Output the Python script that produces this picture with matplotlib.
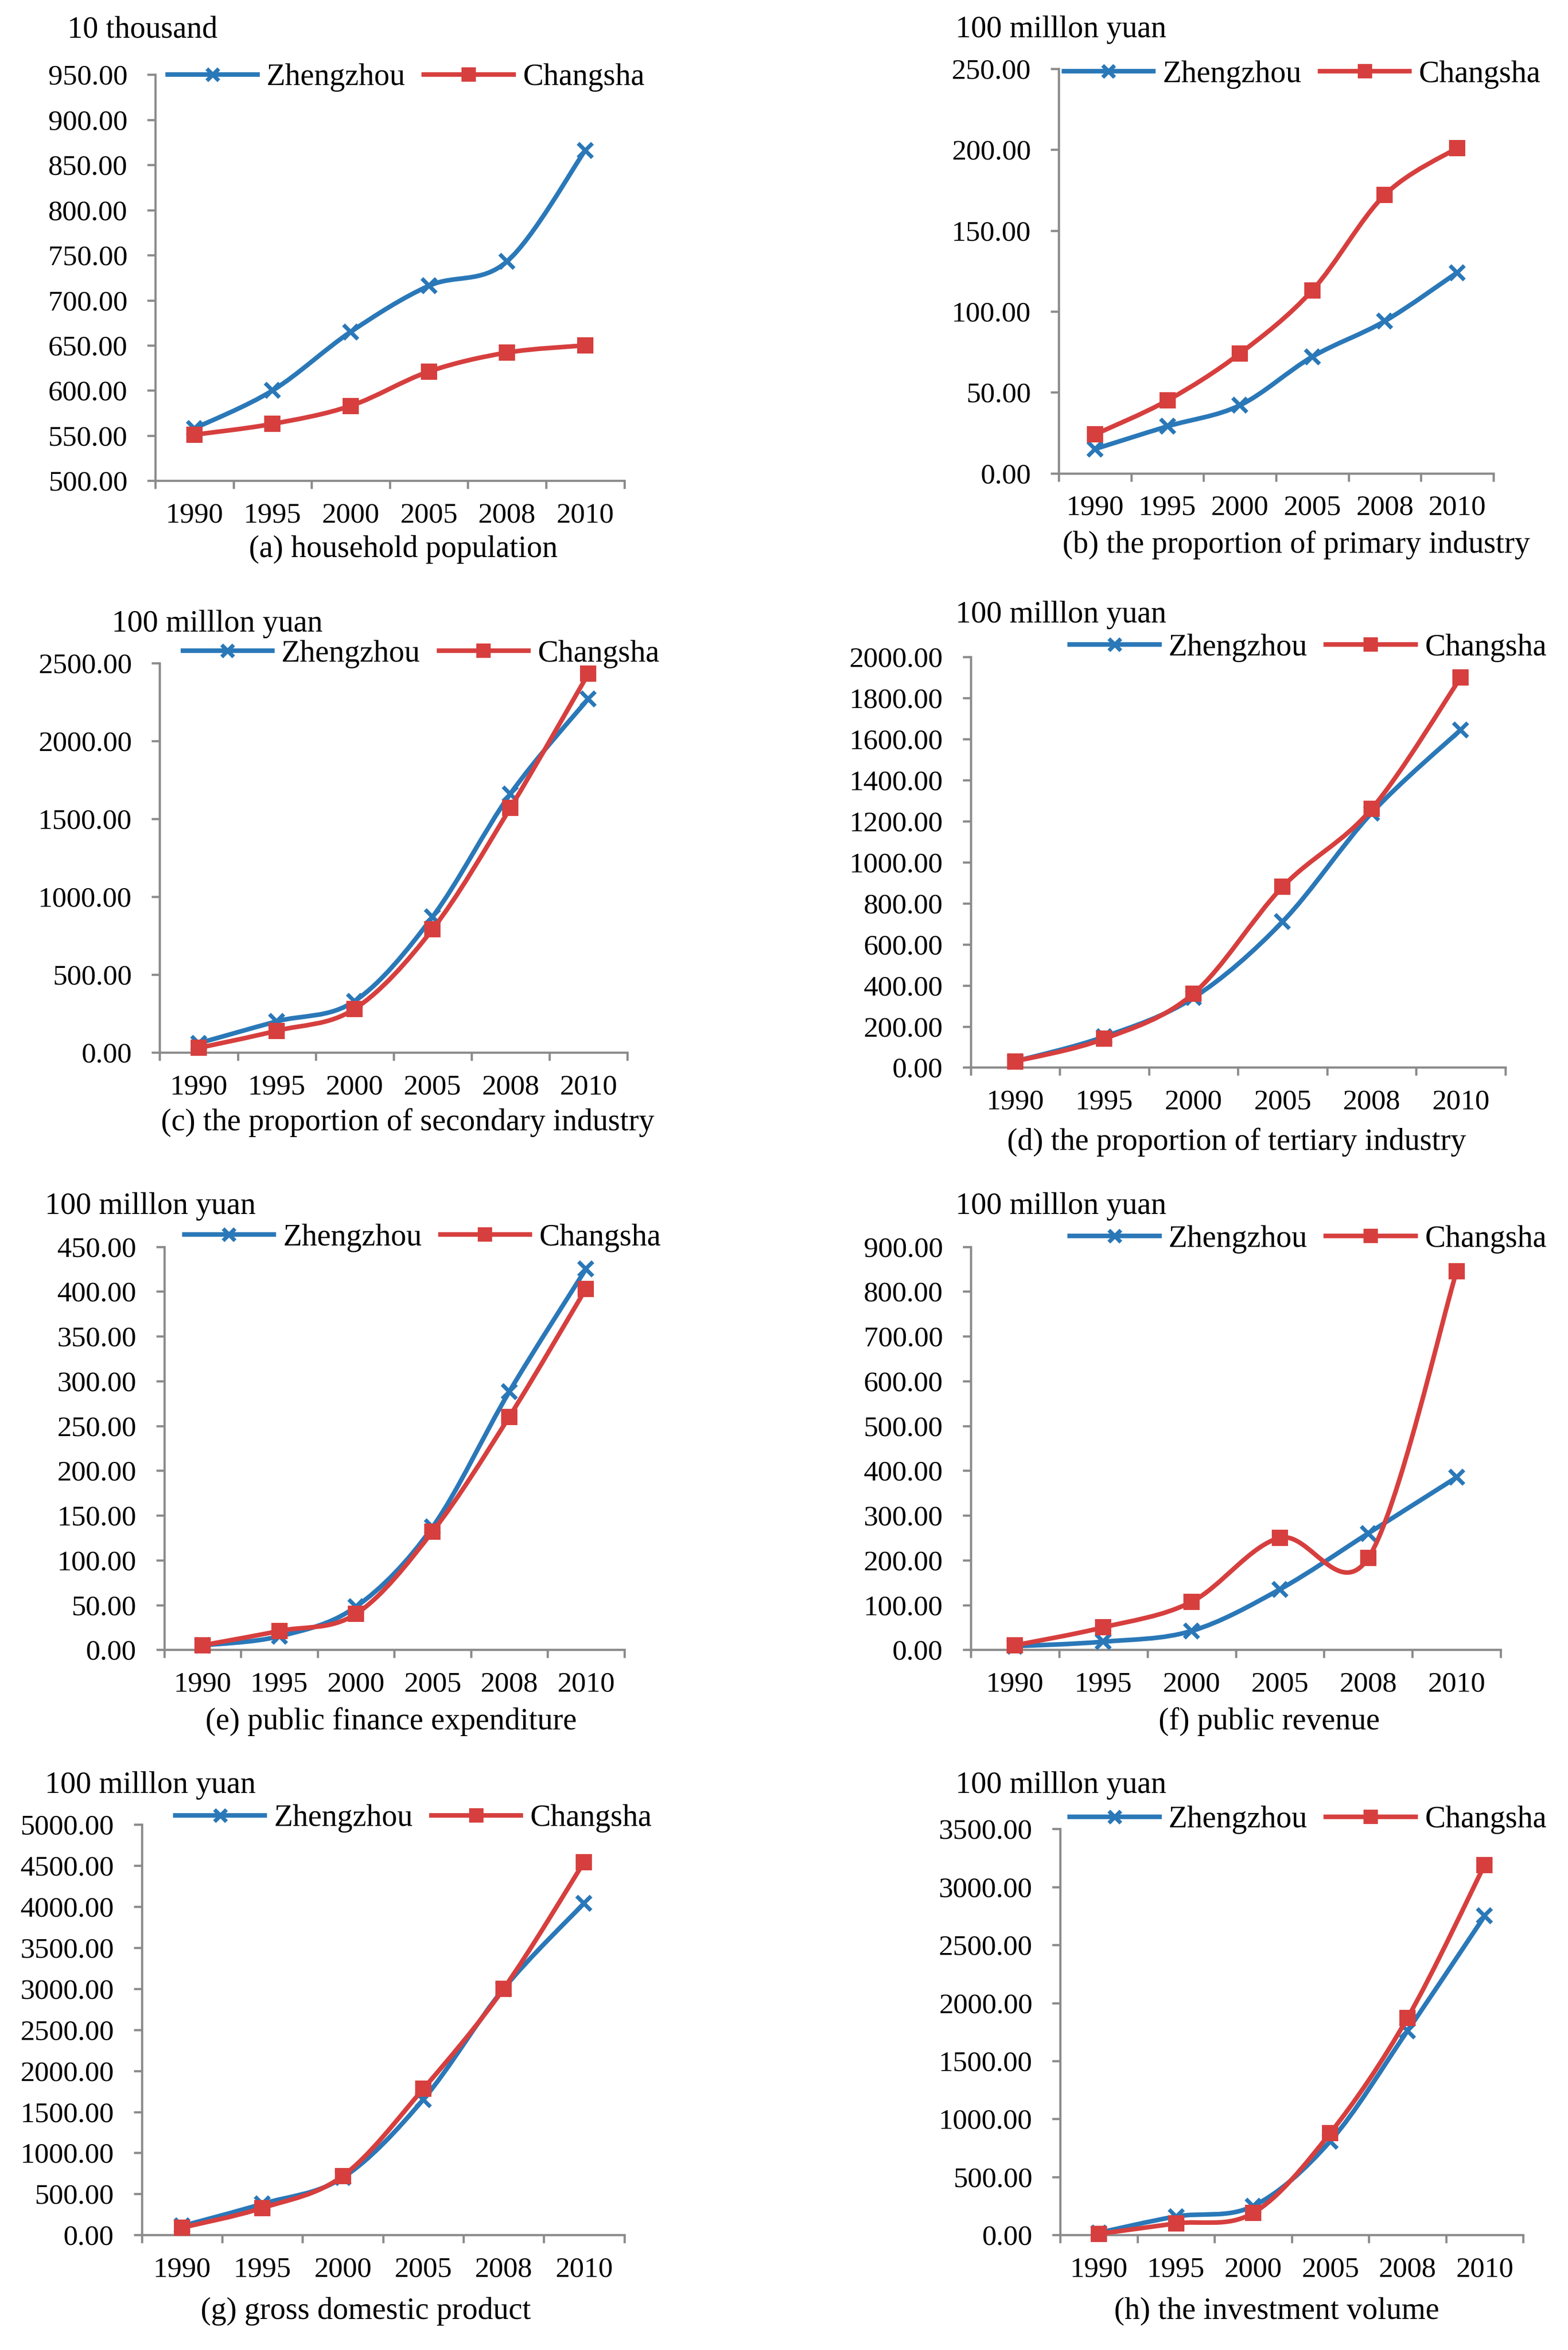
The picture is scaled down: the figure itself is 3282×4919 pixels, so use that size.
import numpy as np
import matplotlib
matplotlib.use("Agg")
import matplotlib.pyplot as plt
from matplotlib.path import Path
from matplotlib.patches import PathPatch
from matplotlib.lines import Line2D

plt.rcParams['font.family'] = ['Liberation Serif', 'DejaVu Serif']

years = ['1990', '1995', '2000', '2005', '2008', '2010']

pop_zz = [558, 600, 665, 716, 743, 866]
pop_cs = [551, 563, 583, 621, 642, 650]

prim_zz = [15, 29, 42, 72, 94, 124]
prim_cs = [24, 45, 74, 113, 172, 201]

sec_zz = [60, 200, 330, 870, 1660, 2270]
sec_cs = [30, 140, 280, 790, 1570, 2430]

ter_zz = [30, 150, 340, 710, 1240, 1645]
ter_cs = [30, 140, 360, 880, 1260, 1900]

exp_zz = [5, 15, 48, 137, 288, 425]
exp_cs = [5, 21, 40, 132, 260, 403]

rev_zz = [8, 18, 42, 135, 260, 385]
rev_cs = [10, 50, 107, 250, 205, 845]

gdp_zz = [110, 380, 700, 1650, 3000, 4040]
gdp_cs = [90, 330, 720, 1780, 3000, 4540]

inv_zz = [20, 160, 250, 810, 1760, 2750]
inv_cs = [10, 100, 190, 880, 1870, 3190]

BLUE = '#2a78b8'
RED = '#d63f3e'
GRAY = '#8a8a8a'
FS = 14.5      # tick labels
FS_TXT = 15.5  # unit labels, captions
FS_LEG = 15.5

W, H = 1050.0, 1574.0  # layout measured on a reduced copy


def fx(x):
    return x / W


def fy(y):
    return 1 - y / H


def smooth_path(x, y):
    # Excel-like smoothed line: cubic Bezier with Catmull-Rom control points
    pts = np.column_stack([x, y]).astype(float)
    n = len(pts)
    verts = [pts[0]]
    codes = [Path.MOVETO]
    for i in range(n - 1):
        p0 = pts[i - 1] if i > 0 else pts[i]
        p1 = pts[i]
        p2 = pts[i + 1]
        p3 = pts[i + 2] if i + 2 < n else pts[i + 1]
        c1 = p1 + (p2 - p0) / 6.0
        c2 = p2 - (p3 - p1) / 6.0
        verts += [c1, c2, p2]
        codes += [Path.CURVE4] * 3
    return Path(verts, codes)


fig = plt.figure(figsize=(3282 / 300, 4919 / 300), dpi=300)

panels = [
    # box (l, t, r, b) in layout px, ticks, unit label, unit pos, caption, caption pos, legend center
    dict(box=(104, 50, 418, 322), zz=pop_zz, cs=pop_cs, ticks=np.arange(500, 951, 50),
         unit='10 thousand', upos=(45, 20), cap='(a) household population', cpos=(270, 368), leg=(272, 52)),
    dict(box=(709, 46, 1000, 317), zz=prim_zz, cs=prim_cs, ticks=np.arange(0, 251, 50),
         unit='100 milllon yuan', upos=(640, 20), cap='(b) the proportion of primary industry', cpos=(868, 365), leg=(872, 50)),
    dict(box=(107, 444, 420, 705), zz=sec_zz, cs=sec_cs, ticks=np.arange(0, 2501, 500),
         unit='100 milllon yuan', upos=(75, 418), cap='(c) the proportion of secondary industry', cpos=(273, 752), leg=(282, 438)),
    dict(box=(650, 440, 1008, 715), zz=ter_zz, cs=ter_cs, ticks=np.arange(0, 2001, 200),
         unit='100 milllon yuan', upos=(640, 412), cap='(d) the proportion of tertiary industry', cpos=(828, 765), leg=(876, 434)),
    dict(box=(110, 835, 418, 1105), zz=exp_zz, cs=exp_cs, ticks=np.arange(0, 451, 50),
         unit='100 milllon yuan', upos=(30, 808), cap='(e) public finance expenditure', cpos=(262, 1153), leg=(283, 829)),
    dict(box=(650, 835, 1005, 1105), zz=rev_zz, cs=rev_cs, ticks=np.arange(0, 901, 100),
         unit='100 milllon yuan', upos=(640, 808), cap='(f) public revenue', cpos=(850, 1153), leg=(876, 830)),
    dict(box=(95, 1222, 418, 1497), zz=gdp_zz, cs=gdp_cs, ticks=np.arange(0, 5001, 500),
         unit='100 milllon yuan', upos=(30, 1196), cap='(g) gross domestic product', cpos=(245, 1548), leg=(277, 1218)),
    dict(box=(710, 1225, 1020, 1497), zz=inv_zz, cs=inv_cs, ticks=np.arange(0, 3501, 500),
         unit='100 milllon yuan', upos=(640, 1196), cap='(h) the investment volume', cpos=(855, 1548), leg=(876, 1219)),
]

xpos = np.arange(len(years))

for p in panels:
    l, t, r, b = p['box']
    ax = fig.add_axes([fx(l), fy(b), fx(r) - fx(l), fy(t) - fy(b)])
    ax.set_xlim(-0.5, len(years) - 0.5)
    ax.set_ylim(p['ticks'][0], p['ticks'][-1])

    for vals, col, mk, ms, z in [(p['zz'], BLUE, 'x', 7, 3), (p['cs'], RED, 's', 8, 4)]:
        ax.add_patch(PathPatch(smooth_path(xpos, vals), fill=False, edgecolor=col,
                               lw=2.3, zorder=z, capstyle='round', clip_on=False))
        ax.plot(xpos, vals, linestyle='none', marker=mk, ms=ms, mew=2 if mk == 'x' else 0,
                color=col, zorder=z + 0.5, clip_on=False)

    ax.set_yticks(p['ticks'])
    ax.set_yticklabels(['%.2f' % v for v in p['ticks']], fontsize=FS)
    ax.set_xticks(np.arange(-0.5, len(years), 1))
    ax.set_xticklabels([])
    ax.set_xticks(xpos, minor=True)
    ax.set_xticklabels(years, minor=True, fontsize=FS)
    ax.tick_params(axis='x', which='major', direction='out', length=4, width=1.1, color=GRAY)
    ax.tick_params(axis='x', which='minor', length=0, pad=11)
    ax.tick_params(axis='y', direction='out', length=4, width=1.1, color=GRAY, pad=10)
    for s in ['top', 'right']:
        ax.spines[s].set_visible(False)
    for s in ['left', 'bottom']:
        ax.spines[s].set_color(GRAY)
        ax.spines[s].set_linewidth(1.1)
    ax.set_facecolor('none')

    fig.text(fx(p['upos'][0]), fy(p['upos'][1]), p['unit'], fontsize=FS_TXT, ha='left', va='center')
    fig.text(fx(p['cpos'][0]), fy(p['cpos'][1]), p['cap'], fontsize=FS_TXT, ha='center', va='center')

    handles = [Line2D([], [], color=BLUE, lw=2.3, marker='x', ms=6, mew=2),
               Line2D([], [], color=RED, lw=2.3, marker='s', ms=7, mew=0)]
    ax.legend(handles, ['Zhengzhou', 'Changsha'], loc='center', ncol=2, frameon=False,
              bbox_to_anchor=(fx(p['leg'][0]), fy(p['leg'][1])), bbox_transform=fig.transFigure,
              fontsize=FS_LEG, handlelength=2.9, handletextpad=0.3, columnspacing=0.6,
              borderaxespad=0, borderpad=0)

fig.savefig('out.png', dpi=300, facecolor='white')
